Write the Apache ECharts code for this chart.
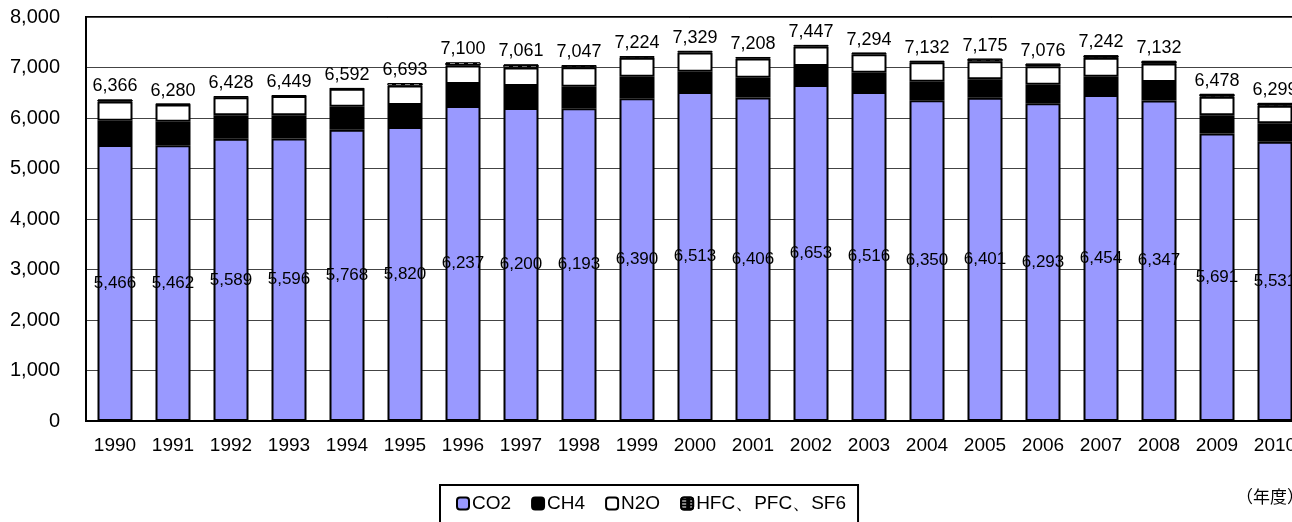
<!DOCTYPE html>
<html>
<head>
<meta charset="utf-8">
<script src="https://cdn.jsdelivr.net/npm/echarts@6/dist/echarts.min.js"></script>
<style>
  html, body { margin: 0; padding: 0; background: #fff; }
  #chart { width: 1292px; height: 522px; }
</style>
</head>
<body>
<div id="chart"></div>
<script>
const years = ['1990','1991','1992','1993','1994','1995','1996','1997','1998','1999','2000',
               '2001','2002','2003','2004','2005','2006','2007','2008','2009','2010'];
const co2 = [5466,5462,5589,5596,5768,5820,6237,6200,6193,6390,6513,6406,6653,6516,6350,6401,6293,6454,6347,5691,5531];
const ch4 = [480,465,464,457,456,437,436,434,427,428,404,392,377,381,369,365,367,364,366,362,364];
const n2o = [380,338,360,381,353,386,367,367,387,376,382,380,387,367,383,359,366,374,364,370,349];
const totals = [6366,6280,6428,6449,6592,6693,7100,7061,7047,7224,7329,7208,7447,7294,7132,7175,7076,7242,7132,6478,6299];
// HFC etc. is what is left of the total
const hfc = totals.map((t, i) => t - co2[i] - ch4[i] - n2o[i]);

const fmt = v => Number(v).toLocaleString('en-US');
const font = '"Liberation Sans", Arial, sans-serif';

const chart = echarts.init(document.getElementById('chart'));

const seg = {
  type: 'bar',
  stack: 'total',
  barWidth: 35,
  emphasis: { disabled: true }
};

chart.setOption({
  animation: false,
  backgroundColor: '#fff',
  textStyle: { fontFamily: font },
  grid: {
    left: 86, top: 17, width: 1218, bottom: 101,
    outerBoundsMode: 'none', containLabel: false,
    show: true, borderColor: '#000', borderWidth: 2, backgroundColor: '#fff'
  },
  legend: {
    left: 440, top: 485,
    itemWidth: 12, itemHeight: 12, itemGap: 20,
    padding: [9, 12, 20, 16],
    borderColor: '#000', borderWidth: 2,
    textStyle: { fontSize: 19, color: '#000', fontFamily: font, padding: [0, 0, 0, -2] },
    data: ['CO2', 'CH4', 'N2O', 'HFC、PFC、SF6']
  },
  xAxis: {
    type: 'category',
    data: years,
    axisTick: { show: false },
    axisLine: { lineStyle: { color: '#000', width: 2 } },
    axisLabel: { fontSize: 19, color: '#000', margin: 15, fontFamily: font }
  },
  yAxis: {
    type: 'value',
    min: 0, max: 8000, interval: 1000,
    axisLine: { show: true, lineStyle: { color: '#000', width: 2 } },
    axisTick: { show: false },
    splitLine: { lineStyle: { color: '#444', width: 1 } },
    axisLabel: { fontSize: 20, color: '#000', margin: 26, formatter: fmt, fontFamily: font }
  },
  series: [
    Object.assign({}, seg, {
      name: 'CO2', data: co2,
      itemStyle: { color: '#9999ff', borderColor: '#000', borderWidth: 2 },
      label: { show: true, position: 'inside', color: '#000', fontSize: 17, fontFamily: font, formatter: p => fmt(p.value) }
    }),
    Object.assign({}, seg, {
      name: 'CH4', data: ch4,
      itemStyle: { color: '#000', borderColor: '#000', borderWidth: 2 }
    }),
    Object.assign({}, seg, {
      name: 'N2O', data: n2o,
      itemStyle: { color: '#fff', borderColor: '#000', borderWidth: 2 }
    }),
    Object.assign({}, seg, {
      name: 'HFC、PFC、SF6', data: hfc,
      itemStyle: {
        color: '#000', borderColor: '#000', borderWidth: 1,
        decal: { symbol: 'rect', color: '#fff', dashArrayX: [[5, 4]], dashArrayY: [1, 2], rotation: 0, symbolSize: 1 }
      },
      label: {
        show: true, position: 'top', distance: 4, color: '#000', fontSize: 18, fontFamily: font,
        formatter: p => fmt(totals[p.dataIndex])
      }
    })
  ],
  graphic: [
    {
      type: 'text', left: 1236, top: 488,
      style: { text: '（年度）', fontSize: 17, fill: '#000', fontFamily: '"Noto Sans CJK JP", sans-serif' }
    }
  ]
});
</script>
</body>
</html>
